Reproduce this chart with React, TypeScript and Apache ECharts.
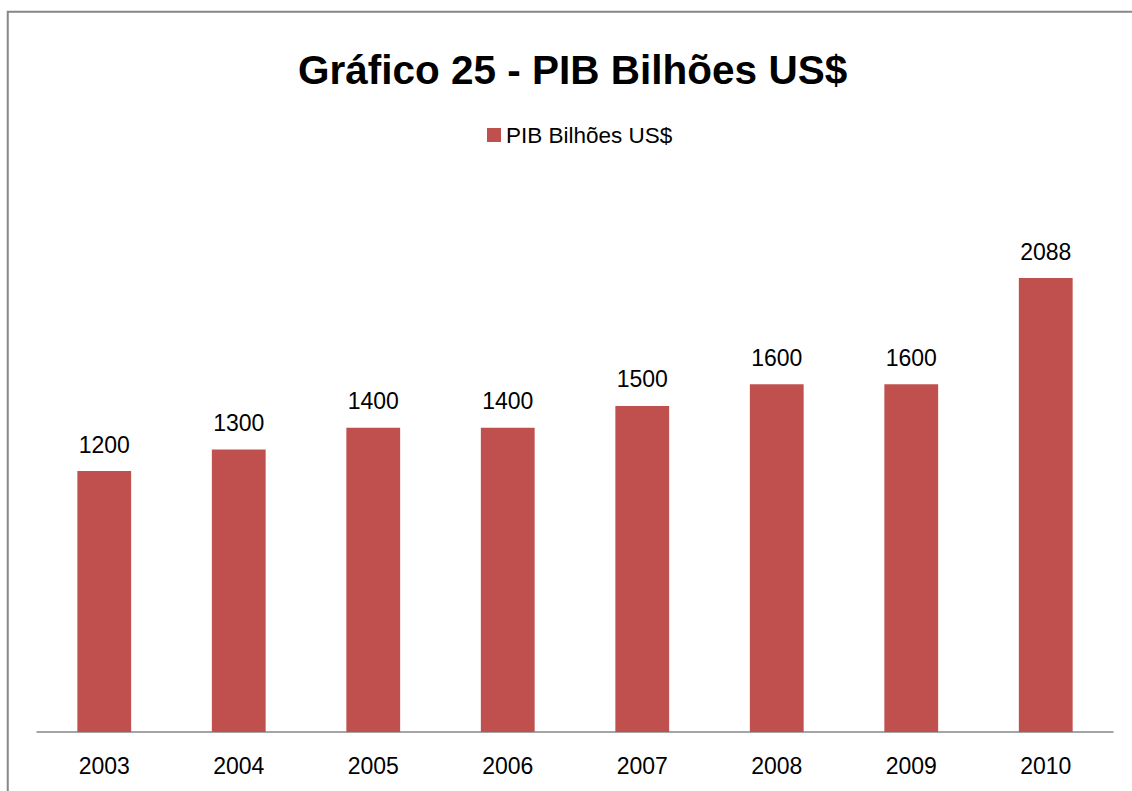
import React, { useEffect, useRef } from "react";
import * as echarts from "echarts";

const titleText = "Gráfico 25 - PIB Bilhões US$";
const seriesName = "PIB Bilhões US$";
const years = ["2003", "2004", "2005", "2006", "2007", "2008", "2009", "2010"];
const pib = [1200, 1300, 1400, 1400, 1500, 1600, 1600, 2088];

const FONT = "'Liberation Sans', Arial, sans-serif";

export default function App() {
  const ref = useRef<HTMLDivElement>(null);
  useEffect(() => {
    if (!ref.current) return;
    const chart = echarts.init(ref.current, undefined, { renderer: "svg" });
    chart.setOption({
      animation: false,
      backgroundColor: "#ffffff",
      textStyle: { fontFamily: FONT },
      title: {
        text: titleText,
        left: 298,
        top: 49,
        padding: 0,
        textStyle: { fontFamily: FONT, fontSize: 40.5, fontWeight: "bold", color: "#000000" },
      },
      legend: {
        data: [seriesName],
        left: 487,
        top: 123.5,
        padding: 0,
        itemWidth: 14,
        itemHeight: 14,
        icon: "rect",
        textStyle: { fontFamily: FONT, fontSize: 22.5, color: "#000000" },
      },
      graphic: [
        {
          type: "rect",
          shape: { x: 7.75, y: 11.75, width: 1300, height: 1000 },
          style: { fill: "none", stroke: "#878787", lineWidth: 2 },
          silent: true,
          z: 100,
        },
      ],
      grid: { left: 37, right: 19, top: 188.5, bottom: 59, containLabel: false },
      xAxis: {
        type: "category",
        data: years,
        axisLine: { show: true, lineStyle: { color: "#878787", width: 1.5 } },
        axisTick: { show: false },
        axisLabel: { fontFamily: FONT, fontSize: 23, color: "#000000", margin: 22 },
      },
      yAxis: {
        type: "value",
        min: 0,
        max: 2500,
        show: false,
        splitLine: { show: false },
      },
      series: [
        {
          name: seriesName,
          type: "bar",
          data: pib,
          barWidth: "40%",
          itemStyle: { color: "#C0504D" },
          label: {
            show: true,
            position: "top",
            distance: 15,
            fontFamily: FONT,
            fontSize: 23,
            color: "#000000",
          },
        },
      ],
    });
    return () => chart.dispose();
  }, []);
  return (
    <div
      ref={ref}
      style={{ position: "fixed", left: 0, top: 0, width: 1132, height: 791 }}
    />
  );
}
